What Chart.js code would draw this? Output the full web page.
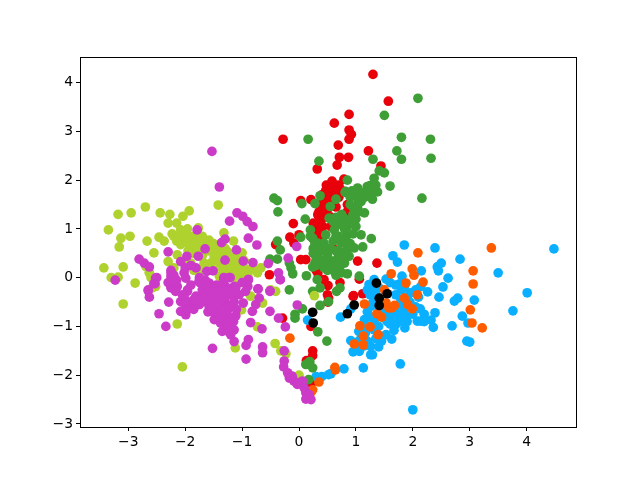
<!DOCTYPE html>
<html>
<head>
<meta charset="utf-8">
<script src="https://cdn.jsdelivr.net/npm/chart.js@4"></script>
<style>
body { margin: 0; background: #fff; }
canvas { display: block; }
</style>
</head>
<body>
<canvas id="myChart" width="640" height="480"></canvas>
<script>
const xTicks = [-3, -2, -1, 0, 1, 2, 3, 4];
const yTicks = [-3, -2, -1, 0, 1, 2, 3, 4];

const redPoints = [
    [1.30,4.17],[1.57,3.62],[0.88,3.35],[0.62,3.17],[0.88,3.03],[0.92,2.94],[0.88,2.84],[-0.28,2.84],[0.69,2.72],[1.22,2.60],
    [0.71,2.47],[0.87,2.47],[0.67,2.31],[0.32,2.23],[1.44,2.29],[0.58,1.98],[0.79,2.02],[0.47,1.79],[0.59,1.84],[0.74,1.80],
    [0.03,1.58],[0.21,1.60],[0.59,1.94],[0.56,1.77],[0.47,1.60],[0.41,1.46],[0.33,1.29],[0.35,1.12],[0.25,1.12],[0.85,1.50],
    [0.85,1.36],[-0.10,1.11],[0,0.88],[-0.16,0.83],[-0.41,0.68],[-0.09,0.71],[0.27,0.57],[0.03,0.37],[0.12,0.37],[1.03,0.34],
    [1.37,0.30],[-0.52,0.06],[0.41,0.91],[0.30,0.98],[0.74,0.78],[0.56,1.05],[0.33,0.09],[0.44,-0.04],[0.51,-0.16],[0.72,-0.10],
    [0.96,-0.37],[1.12,-0.33],[1.06,-0.03],[0.52,-0.42],[0.24,-1.50],[0.24,-1.60],[-0.29,-0.83],[0.21,-1.00],[0.50,-0.35],[0.51,-0.50],
    [0.21,-2.19],[0.18,-2.26],[0.13,-1.70],[0.45,1.35],[0.50,1.50],[0.40,1.20],[0.38,0.80],[0.30,0.60],[0.45,0.30],[0.60,0.60],
    [0.95,-0.38],[0.25,0.80],[0.55,1.25],[0.65,1.45],[0.40,1.70],[0.70,1.65],[0.35,0.30],[0.30,0.15],
    [0.50,1.40],[0.45,1.25],[0.42,1.05],[0.35,0.95],[0.38,0.65],[0.30,0.45],[0.55,1.60],[0.60,1.70],[0.70,1.90],[0.48,1.90],
    [0.52,1.72],[0.42,1.60],[0.65,1.75],[0.35,1.35],[0.38,1.00],[0.42,0.85],[0.33,0.70]
];
const bluePoints = [
    [1.85,0.67],[2.39,0.61],[4.48,0.59],[1.65,0.45],[1.73,0.32],[2.83,0.38],[2.50,0.30],[2.43,0.22],[2.45,0.14],[2.15,0.14],
    [3.50,0.10],[2.62,-0.01],[1.81,0.03],[1.76,-0.13],[1.53,-0.03],[2.53,-0.19],[2.26,-0.29],[2.14,-0.18],[4.01,-0.31],[2.46,-0.40],
    [2.79,-0.42],[2.73,-0.48],[3.08,-0.46],[1.96,-0.31],[1.79,-0.45],[1.23,-0.14],[1.20,-0.25],[1.32,-0.04],[3.76,-0.68],[2.13,-0.64],
    [2.39,-0.72],[2.87,-0.79],[2.97,-0.93],[2.69,-0.99],[2.36,-1.02],[2.32,-0.87],[2.08,-0.89],[2.14,-0.89],[1.88,-0.79],[1.76,-0.76],
    [1.86,-1.03],[1.70,-0.96],[1.67,-1.08],[1.50,-0.83],[0.73,-0.81],[0.91,-0.64],[1.26,-0.59],[1.15,-0.86],[1.32,-0.89],[1.53,-1.17],
    [1.63,-1.26],[0.91,-1.29],[0.95,-1.52],[1.06,-1.51],[1.26,-1.41],[1.40,-1.42],[1.26,-1.58],[1.17,-1.13],[2.95,-1.30],[3.00,-1.32],
    [1.78,-1.77],[1.13,-1.85],[0.79,-1.87],[0.56,-1.97],[2.00,-2.71],[1.29,-1.58],[1.32,-1.07],[0.15,-0.87],[0.52,-1.99],[0.40,-2.03],
    [0.30,-2.03],[1.40,-0.20],[1.45,-0.60],[1.85,-0.65],[1.95,-0.50],[1.60,-0.95],[1.20,-1.30],[1.10,-1.20],[1.40,-1.00],[1.85,-0.20],
    [2.05,-0.60],[2.20,-0.75],[1.90,-0.90],[1.00,-1.45],[1.35,-1.25],[1.55,-0.70],[1.30,-0.50],[1.35,-0.35],
    [1.60,-0.85],[1.70,-0.70],[1.80,-0.55],[1.90,-0.40],[1.75,-0.90],[1.65,-0.75],[1.20,-0.70],[1.15,-0.95],[1.25,-0.80],[1.05,-1.10],
    [1.40,-1.25],[1.20,-1.00],[1.05,-1.30],[1.15,-1.40],[1.45,-1.30],[1.55,-0.90],[1.40,-0.70],[1.60,-0.10],[1.70,-0.35],[1.30,-0.20],
    [1.25,-0.35],[2.00,-0.75],[2.20,-0.90],[1.70,-0.15],[1.80,-0.25],[2.05,-0.25],[2.10,-0.40]
];
const orangePoints = [
    [3.38,0.61],[2.09,0.51],[1.62,0.08],[1.99,0.18],[2.02,0.05],[1.88,-0.11],[2.18,-0.09],[3.06,0.14],[3.06,-0.13],[2.08,-0.35],
    [1.50,-0.25],[1.15,-0.54],[1.85,-0.42],[1.91,-0.55],[1.99,-0.64],[1.53,-0.52],[1.58,-0.62],[1.68,-0.57],[1.63,-0.62],[1.37,-0.74],
    [1.45,-0.81],[3.01,-0.66],[3.04,-0.93],[3.22,-1.03],[1.07,-0.99],[1.25,-1.01],[1.13,-1.20],[1.39,-1.17],[0.97,-1.36],[1.13,-1.38],
    [0.63,-1.84],[0.64,-1.89],[-0.16,-1.24],[0.35,-2.14],[0.24,-2.30],[0.21,-2.35]
];
const greenPoints = [
    [2.09,3.68],[1.50,3.33],[0.16,2.84],[1.80,2.88],[2.31,2.84],[1.72,2.60],[1.80,2.43],[2.32,2.45],[1.30,2.43],[0.35,2.39],
    [1.41,2.19],[1.50,2.15],[1.32,2.04],[0.85,2.00],[1.60,1.88],[1.25,1.89],[1.20,1.80],[1.38,1.76],[1.26,1.70],[0.93,1.78],
    [0.81,1.75],[1.09,1.73],[0.37,1.68],[0.65,1.61],[2.16,1.63],[-0.44,1.63],[-0.38,1.58],[1.03,1.63],[1.29,1.61],[-0.37,1.35],
    [0.05,1.52],[0.28,1.52],[0.55,1.46],[0.11,1.20],[0.53,1.22],[0.65,1.24],[0.79,1.22],[0.91,1.19],[1.09,1.56],[1.03,1.43],
    [1.15,1.33],[1.00,1.05],[0.74,1.09],[0.62,0.98],[0.20,0.98],[0.47,0.88],[0.85,0.88],[1.09,0.88],[1.27,0.80],[0.03,0.83],
    [0.24,0.81],[0.33,0.71],[0.44,0.71],[0.74,0.71],[1.12,0.63],[0.97,0.61],[-0.38,0.75],[-0.33,0.57],[-0.51,0.38],[-0.38,0.38],
    [-0.17,0.30],[-0.14,0.20],[-0.11,0.08],[0.33,0.47],[0.71,0.54],[0.50,0.47],[0.88,0.44],[0.68,0.40],[0.53,0.37],[0.30,0.37],
    [0.24,0.22],[0.44,0.20],[0.62,0.13],[0.71,0.20],[0.85,0.08],[0.13,0.04],[0.32,-0.04],[0.37,-0.21],[0.24,-0.28],[-0.17,-0.25],
    [1.06,0.03],[0.72,-0.21],[0.66,-0.28],[1.03,1.84],[1.20,1.87],[0.82,1.77],[0.94,1.73],[0.37,-0.57],[0.52,-0.49],[0.06,-0.64],
    [-0.07,-0.83],[-0.07,-0.75],[0.33,-1.11],[0.49,-1.30],[0.19,-1.72],[0.12,-1.78],[0.24,-1.85],[0.17,-2.09],[0.90,1.50],[0.95,1.30],
    [0.85,1.05],[0.70,0.85],[0.40,0.55],[0.25,0.60],[0.60,0.30],[1.00,1.75],[1.15,1.65],[0.28,0.30],[0.80,0.30],
    [0.20,0.85],[0.28,0.70],[0.25,0.50],[0.35,0.60],[0.45,0.60],[0.55,0.60],[0.60,0.75],[0.65,0.85],[0.80,0.80],[0.90,0.70],
    [0.95,0.90],[0.80,1.00],[0.70,1.10],[0.60,1.15],[0.75,1.30],[0.85,1.15],[0.85,0.60],[0.80,0.50],[0.75,0.45],[0.65,0.55],
    [0.55,0.25],[0.50,0.15],[0.40,0.35],[0.75,0.35],[0.65,0.25],[0.30,0.25],[0.95,1.45],[1.05,1.35],[1.00,1.20],[1.10,1.70],
    [1.30,1.80],[1.20,1.70],[1.35,1.90],[1.05,1.55],[1.15,1.75],[0.90,1.65],[0.65,0.05],[0.75,0.10]
];
const olivePoints = [
    [-3.18,1.30],[-2.95,1.33],[-2.70,1.45],[-2.44,1.33],[-2.27,1.30],[-1.93,1.37],[-2.04,1.26],[-3.35,0.98],[-3.13,0.81],[-2.97,0.85],
    [-3.16,0.63],[-2.67,0.75],[-2.55,0.51],[-2.46,0.83],[-2.23,0.90],[-2.30,1.12],[-2.15,1.12],[-2.37,0.75],[-3.43,0.20],[-3.09,0.22],
    [-3.30,0.00],[-3.18,0.01],[-2.88,-0.11],[-1.42,1.49],[-1.77,1.02],[-1.96,1.00],[-2.08,0.98],[-1.32,0.92],[-1.15,0.75],[-1.70,0.85],
    [-1.58,0.77],[-1.87,0.68],[-2.02,0.78],[-2.08,0.68],[-1.26,0.54],[-1.46,0.57],[-1.00,0.51],[-0.96,0.34],[-1.49,0.44],[-1.67,0.30],
    [-2.30,0.33],[-2.14,0.47],[-0.67,0.20],[-0.79,0.17],[-0.73,0.10],[-1.08,0.20],[-1.20,0.27],[-1.32,0.17],[-1.02,0.06],[-2.63,0.10],
    [-2.60,0.00],[-2.69,0.23],[-1.40,0.03],[-1.14,0.03],[-0.90,-0.07],[-2.52,-0.18],[-0.50,-0.25],[-3.09,-0.54],[-2.14,-0.95],[-2.05,-1.83],
    [-1.12,-1.44],[-0.42,-1.35],[-0.32,-1.50],[-0.23,-1.56],[-0.73,-1.01],[-1.01,-0.66],[-0.64,-0.52],[-0.85,-0.38],[-0.41,-0.28],[0.27,-0.37],
    [0.00,-2.00],[-0.73,0.13],[-1.08,0.06],[-1.35,-0.04],[-2.58,-0.21],[-2.63,0.10],[-1.55,0.60],[-1.35,0.45],[-1.20,0.40],[-1.05,0.25],
    [-1.50,0.15],[-1.85,0.50],[-1.95,0.55],[-1.75,0.60],[-1.10,-0.15],[-1.85,0.15],
    [-2.20,0.85],[-2.10,0.85],[-2.00,0.95],[-1.95,0.85],[-1.85,0.85],[-2.15,0.75],[-1.95,0.70],[-1.80,0.75],[-1.65,0.70],[-1.50,0.70],
    [-1.40,0.65],[-1.45,0.40],[-1.40,0.30],[-1.30,0.35],[-1.25,0.30],[-1.15,0.35],[-1.10,0.45],[-1.55,0.30],[-1.50,0.35],[-1.60,0.25],
    [-1.35,0.20],[-1.25,0.10],[-1.20,0.10],[-1.05,0.10],[-0.95,0.15],[-1.10,0.15],[-0.90,0.05],[-1.45,0.50],[-1.35,0.55],[-1.90,0.30],
    [-2.00,0.35],[-2.20,0.20],[-1.70,0.45],[-1.25,0.45],[-1.10,0.30],[-1.30,0.60],[-1.60,0.55],[-1.75,0.15],
    [-1.00,0.40],[-0.90,0.16],[-1.05,0.50]
];
const magentaPoints = [
    [-1.53,2.59],[-1.40,1.86],[-1.09,1.33],[-0.99,1.26],[-0.91,1.15],[-0.81,1.05],[-1.22,1.16],[-0.89,0.81],[-0.74,0.67],[-1.79,0.98],
    [-1.30,0.79],[-1.36,0.72],[-1.65,0.59],[-1.10,0.57],[-2.30,0.53],[-1.77,0.44],[-1.97,0.44],[-2.08,0.33],[-1.30,0.36],[-0.98,0.34],
    [-0.81,0.31],[-0.19,0.40],[-0.54,0.29],[-0.36,0.10],[-0.33,-0.04],[-0.89,-0.04],[-2.81,0.38],[-2.72,0.30],[-2.63,0.22],[-3.23,-0.05],
    [-2.50,0.00],[-2.53,-0.12],[-2.25,0.15],[-2.25,0.03],[-2.02,0.10],[-1.81,0.20],[-1.75,0.00],[-1.62,0.13],[-1.51,0.14],[-1.32,-0.03],
    [-1.21,0.00],[-1.99,-0.01],[-1.73,-0.11],[-1.58,-0.14],[-1.14,-0.18],[-0.90,-0.18],[-1.29,-0.18],[-2.25,-0.18],[-2.16,-0.18],[-1.96,-0.25],
    [-2.65,-0.25],[-0.72,-0.23],[-0.04,0.64],[-0.51,-0.28],[-2.25,0.10],[-2.52,-0.01],[-2.55,-0.12],[-2.65,-0.27],[-2.63,-0.40],[-2.29,-0.50],
    [-2.46,-0.74],[-2.34,-1.00],[-2.25,-0.21],[-2.14,-0.18],[-2.17,-0.28],[-2.08,-0.49],[-1.96,-0.28],[-2.08,-0.69],[-1.99,-0.76],[-1.90,-0.55],
    [-1.81,-0.38],[-1.76,-0.08],[-1.58,-0.11],[-1.70,-0.25],[-1.64,-0.49],[-1.49,-0.31],[-1.40,-0.31],[-1.26,-0.25],[-1.11,-0.21],[-0.94,-0.28],
    [-0.89,-0.04],[-0.72,-0.23],[-0.70,-0.42],[-0.76,-0.55],[-0.82,-0.69],[-0.98,-0.52],[-1.14,-0.50],[-1.26,-0.55],[-1.11,-0.78],[-1.26,-0.76],
    [-1.46,-0.66],[-1.58,-0.59],[-1.49,-0.86],[-1.38,-0.93],[-1.26,-1.00],[-1.14,-1.07],[-1.35,-1.10],[-1.20,-1.17],[-1.14,-1.31],[-1.52,-1.45],
    [-0.89,-1.27],[-0.93,-1.39],[-0.93,-1.67],[-0.64,-1.42],[-0.64,-1.54],[-0.85,-0.92],[-0.65,-1.05],[-0.51,-0.69],[-0.36,-0.83],[-0.24,-1.01],
    [-0.26,-1.50],[-0.26,-1.71],[-0.27,-1.83],[-0.20,-1.95],[-0.12,-2.02],[-0.09,-2.12],[0.00,-2.16],[0.09,-2.26],[0.12,-2.36],[0.12,-2.49],
    [0.21,-2.50],[0.18,-2.40],[0.06,-2.12],[-0.03,-2.19],[-0.17,-2.06],[-0.51,-0.27],[-0.03,-0.56],[-0.33,-0.04],[-1.32,0.00],[-1.23,0.00],
    [-2.15,-0.05],[-2.05,-0.35],[-2.00,-0.45],[-1.85,-0.45],[-1.80,-0.50],[-1.75,-0.40],[-1.70,-0.45],[-1.60,-0.35],[-1.55,-0.30],[-1.50,-0.45],
    [-1.45,-0.50],[-1.40,-0.60],[-1.35,-0.45],[-1.30,-0.40],[-1.20,-0.35],[-1.25,-0.65],[-1.30,-0.85],[-1.20,-0.90],[-1.35,-0.75],[-1.40,-0.80],
    [-1.15,-0.40],[-1.05,-0.35],[-2.00,-0.55],[-1.95,-0.65],[-1.85,-0.65],[-1.75,-0.55],[-1.60,-0.70],[-1.50,-0.70],[-1.20,-0.60],[-1.10,-0.65],
    [-1.90,-0.15],[-1.65,-0.05],[-1.45,-0.15],[-1.35,-0.15],[-1.00,-0.10],[-2.30,-0.10],[-2.20,0.05],[-2.00,0.20],[-1.90,0.25],[-1.60,-0.20],
    [-1.15,-0.90],[-1.25,-1.10]
];
const blackPoints = [
    [1.36,-0.11],[1.55,-0.33],[1.41,-0.42],[1.41,-0.57],[0.97,-0.56],[0.85,-0.74],[0.24,-0.71],[0.25,-0.93]
];

const toPoints = list => list.map(p => ({ x: p[0], y: p[1] }));

// first dataset ends up on top in chart.js
const series = [
    { data: blackPoints, color: '#000000' },
    { data: magentaPoints, color: '#cb3bc7' },
    { data: olivePoints, color: '#afd22e' },
    { data: greenPoints, color: '#3f9f36' },
    { data: orangePoints, color: '#ff5c00' },
    { data: bluePoints, color: '#0ab0ff' },
    { data: redPoints, color: '#e8000b' }
];

// top and right spines
const framePlugin = {
    id: 'frame',
    afterDraw(chart) {
        const a = chart.chartArea;
        const ctx = chart.ctx;
        ctx.save();
        ctx.strokeStyle = '#000';
        ctx.lineWidth = 1;
        ctx.strokeRect(a.left + 0.5, a.top + 0.5, a.right - a.left, a.bottom - a.top);
        ctx.restore();
    }
};

const minus = v => String(v).replace('-', '\u2212');
const tickFont = { family: 'DejaVu Sans', size: 13.9 };

new Chart(document.getElementById('myChart').getContext('2d'), {
    type: 'scatter',
    data: {
        datasets: series.map(s => ({
            data: toPoints(s.data),
            backgroundColor: s.color,
            borderWidth: 0,
            pointRadius: 4.85,
            pointHoverRadius: 4.85,
            clip: false
        }))
    },
    options: {
        responsive: false,
        animation: false,
        layout: { padding: { top: 57, right: 64, left: 0, bottom: 0 } },
        plugins: { legend: { display: false }, tooltip: { enabled: false } },
        scales: {
            x: {
                type: 'linear',
                min: -3.849,
                max: 4.868,
                afterBuildTicks: axis => { axis.ticks = xTicks.map(v => ({ value: v })); },
                afterFit: axis => { axis.height = 53; },
                grid: { drawOnChartArea: false, color: '#000', tickLength: 4, lineWidth: 1 },
                border: { color: '#000' },
                ticks: { color: '#000', font: tickFont, padding: 3, maxRotation: 0, autoSkip: false, callback: minus }
            },
            y: {
                type: 'linear',
                min: -3.063,
                max: 4.527,
                afterBuildTicks: axis => { axis.ticks = yTicks.map(v => ({ value: v })); },
                afterFit: axis => { axis.width = 80; },
                grid: { drawOnChartArea: false, color: '#000', tickLength: 4, lineWidth: 1 },
                border: { color: '#000' },
                ticks: { color: '#000', font: tickFont, padding: 3, autoSkip: false, callback: minus }
            }
        }
    },
    plugins: [framePlugin]
});
</script>
</body>
</html>
